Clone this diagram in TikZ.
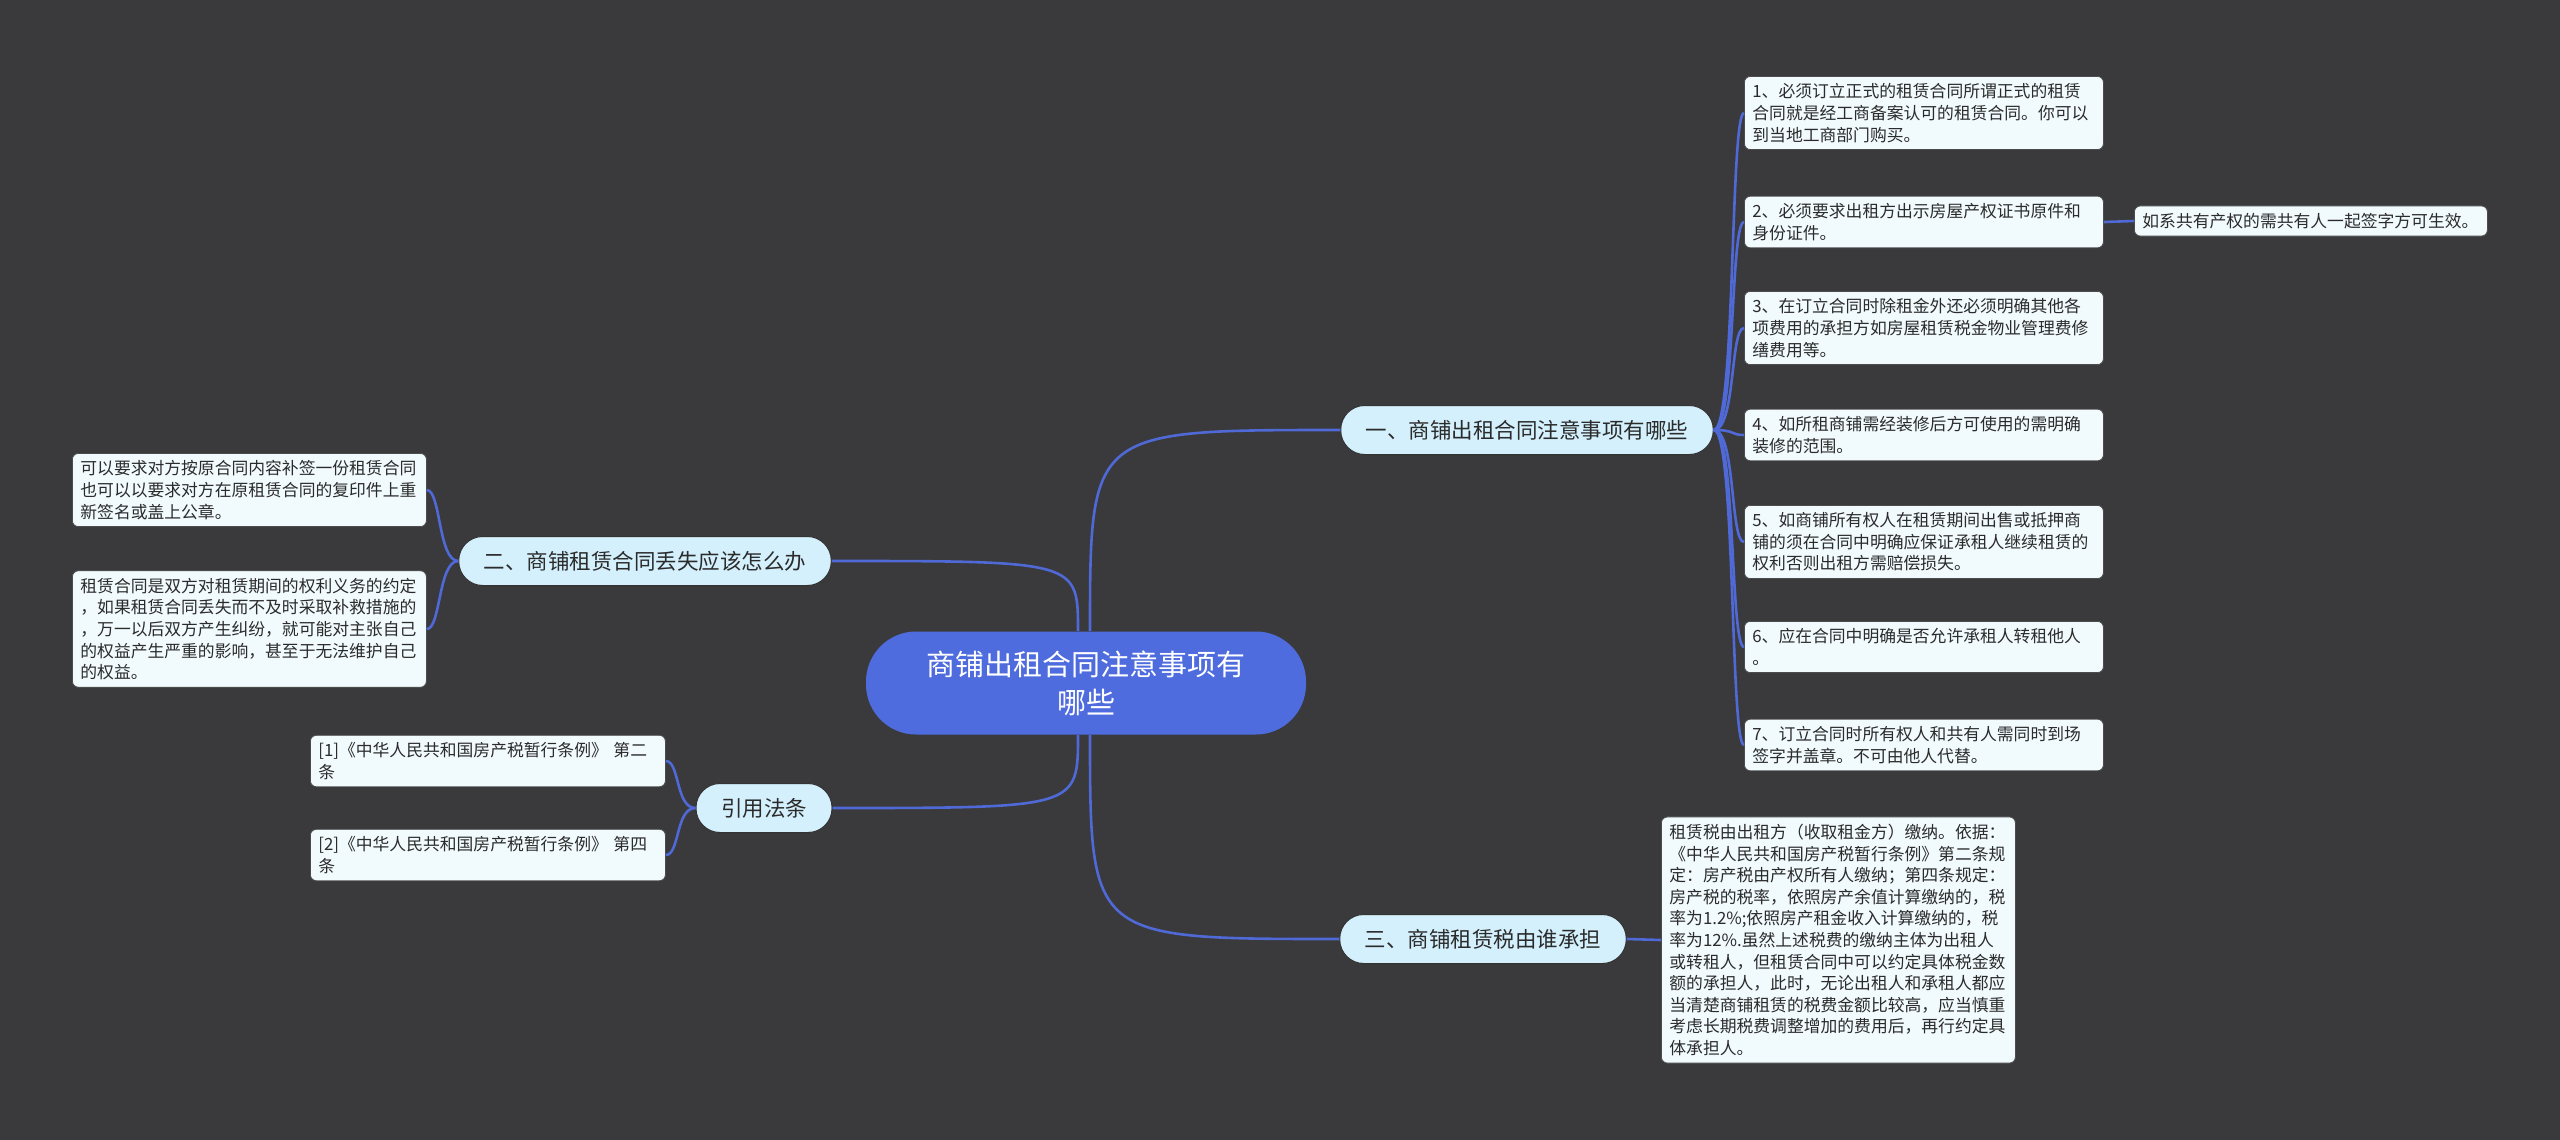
\documentclass[tikz,border=0pt]{standalone}
\usepackage{fontspec}
\setmainfont{Noto Sans CJK SC}
\usepackage{xcolor}
\usetikzlibrary{positioning, calc}
\definecolor{mapBack}{HTML}{3A393B}
\definecolor{mapRoot}{HTML}{4E6CDE}
\definecolor{mapTopic}{HTML}{D3F0FC}
\definecolor{mapLeaf}{HTML}{F1FAFD}
\definecolor{mapLine}{HTML}{4F69D6}
\definecolor{mapInk}{HTML}{2B2B2B}

\begin{document}
\begin{tikzpicture}[x=0.5pt,y=-0.5pt,
  rootbox/.style={fill=mapRoot,text=white,rounded corners=25pt,minimum width=220pt,minimum height=51.5pt,align=center,font=\fontsize{14.5}{19}\selectfont},
  topicbox/.style={fill=mapTopic,draw=black!80,line width=0.5pt,rounded corners=12pt,minimum height=24.5pt,inner xsep=12.5pt,text=mapInk,font=\fontsize{10.75}{13}\selectfont},
  leafbox/.style={fill=mapLeaf,draw=black!70,line width=0.4pt,rounded corners=3pt,align=left,inner xsep=4pt,inner ysep=3.6pt,text width=#1,text=mapInk,font=\fontsize{8.4}{10.8}\selectfont},
  link/.style={draw=mapLine,line width=1.3pt}]
\fill[mapBack] (0,0) rectangle (2560,1140);
\useasboundingbox (0,0) rectangle (2560,1140);

% centre and main topics
\node[rootbox] (root) at (1086,683) {商铺出租合同注意事项有\\哪些};
\node[topicbox] (b1) at (1527,430) {一、商铺出租合同注意事项有哪些};
\node[topicbox] (b2) at (645,561) {二、商铺租赁合同丢失应该怎么办};
\node[topicbox] (b3) at (764,808) {引用法条};
\node[topicbox] (b4) at (1483,939) {三、商铺租赁税由谁承担};

% right column
\node[leafbox=171.5pt,anchor=west] (r1) at (1744,113) {1、必须订立正式的租赁合同所谓正式的租赁\\合同就是经工商备案认可的租赁合同。你可以\\到当地工商部门购买。};
\node[leafbox=171.5pt,anchor=west] (r2) at (1744,222) {2、必须要求出租方出示房屋产权证书原件和\\身份证件。};
\node[leafbox=171.5pt,anchor=west] (r3) at (1744,328) {3、在订立合同时除租金外还必须明确其他各\\项费用的承担方如房屋租赁税金物业管理费修\\缮费用等。};
\node[leafbox=171.5pt,anchor=west] (r4) at (1744,435) {4、如所租商铺需经装修后方可使用的需明确\\装修的范围。};
\node[leafbox=171.5pt,anchor=west] (r5) at (1744,542) {5、如商铺所有权人在租赁期间出售或抵押商\\铺的须在合同中明确应保证承租人继续租赁的\\权利否则出租方需赔偿损失。};
\node[leafbox=171.5pt,anchor=west] (r6) at (1744,647) {6、应在合同中明确是否允许承租人转租他人\\。};
\node[leafbox=171.5pt,anchor=west] (r7) at (1744,745) {7、订立合同时所有权人和共有人需同时到场\\签字并盖章。不可由他人代替。};
\node[leafbox=168.5pt,anchor=west] (r2x) at (2134,221) {如系共有产权的需共有人一起签字方可生效。};
\node[leafbox=169pt,anchor=west] (tax) at (1661,940) {租赁税由出租方（收取租金方）缴纳。依据：\\《中华人民共和国房产税暂行条例》第二条规\\定：房产税由产权所有人缴纳；第四条规定：\\房产税的税率，依照房产余值计算缴纳的，税\\率为1.2\%;依照房产租金收入计算缴纳的，税\\率为12\%.虽然上述税费的缴纳主体为出租人\\或转租人，但租赁合同中可以约定具体税金数\\额的承担人，此时，无论出租人和承租人都应\\当清楚商铺租赁的税费金额比较高，应当慎重\\考虑长期税费调整增加的费用后，再行约定具\\体承担人。};

% left column
\node[leafbox=169pt,anchor=west] (l1) at (72,490) {可以要求对方按原合同内容补签一份租赁合同\\也可以以要求对方在原租赁合同的复印件上重\\新签名或盖上公章。};
\node[leafbox=169pt,anchor=west] (l2) at (72,629) {租赁合同是双方对租赁期间的权利义务的约定\\，如果租赁合同丢失而不及时采取补救措施的\\，万一以后双方产生纠纷，就可能对主张自己\\的权益产生严重的影响，甚至于无法维护自己\\的权益。};
\node[leafbox=169.5pt,anchor=west] (law1) at (310,761) {[1]《中华人民共和国房产税暂行条例》 第二\\条};
\node[leafbox=169.5pt,anchor=west] (law2) at (310,855) {[2]《中华人民共和国房产税暂行条例》 第四\\条};

% connectors
\draw[link] ([xshift=2pt]root.north) .. controls ([xshift=2pt]root.north |- b1.west) .. (b1.west);
\draw[link] ([xshift=-4pt]root.north) .. controls ([xshift=-4pt]root.north |- b2.east) .. (b2.east);
\draw[link] ([xshift=-4pt]root.south) .. controls ([xshift=-4pt]root.south |- b3.east) .. (b3.east);
\draw[link] ([xshift=2pt]root.south) .. controls ([xshift=2pt]root.south |- b4.west) .. (b4.west);
\foreach \k in {1,...,7}
  \draw[link] (b1.east) .. controls +(22,0) and +(-14,0) .. (r\k.west);
\draw[link] (r2.east) -- (r2x.west);
\draw[link] (b4.east) -- (tax.west);
\foreach \k in {1,2}
  \draw[link] (b2.west) .. controls +(-20,0) and +(14,0) .. (l\k.east);
\foreach \k in {1,2}
  \draw[link] (b3.west) .. controls +(-20,0) and +(14,0) .. (law\k.east);
\end{tikzpicture}
\end{document}
